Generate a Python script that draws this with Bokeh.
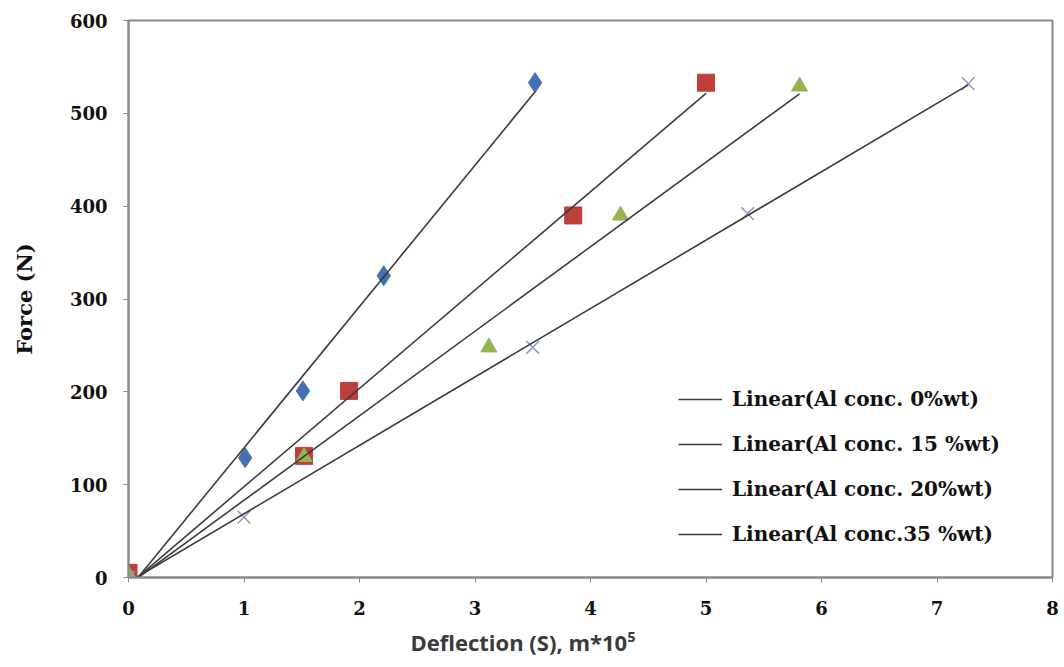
import numpy as np
from bokeh.plotting import figure
from bokeh.models import Legend, LegendItem, Title, FixedTicker, Range1d
from bokeh.embed import file_html
from bokeh.resources import INLINE

# Data (deflection in m*10^5, force in N)
x_0 = [0.0, 1.01, 1.51, 2.21, 3.52]
y_0 = [5, 129, 201, 325, 533]
x_15 = [0.0, 1.52, 1.91, 3.85, 5.0]
y_15 = [5, 131, 201, 390, 533]
x_20 = [0.0, 1.52, 3.12, 4.26, 5.81]
y_20 = [3, 130, 248, 390, 529]
x_35 = [0.0, 1.0, 3.5, 5.36, 7.27]
y_35 = [0, 65, 248, 392, 532]

legend_labels = ["Linear(Al conc. 0%wt)", "Linear(Al conc. 15 %wt)",
                 "Linear(Al conc. 20%wt)", "Linear(Al conc.35 %wt)"]
x_ticks = [0, 1, 2, 3, 4, 5, 6, 7, 8]
y_ticks = [0, 100, 200, 300, 400, 500, 600]

p = figure(width=1064, height=667, output_backend="svg", toolbar_location=None,
           x_range=Range1d(0, 8), y_range=Range1d(0, 600),
           min_border_left=128, min_border_right=12, min_border_top=20, min_border_bottom=90)
p.xgrid.visible = False
p.ygrid.visible = False
p.outline_line_color = "#8a8a8a"
p.outline_line_width = 2
p.background_fill_color = "white"
p.border_fill_color = "white"

serif = "DejaVu Serif"
for ax in (p.xaxis[0], p.yaxis[0]):
    ax.axis_line_color = "#8a8a8a"
    ax.axis_line_width = 2
    ax.major_tick_line_color = "#8a8a8a"
    ax.major_tick_out = 5
    ax.major_tick_in = 0
    ax.minor_tick_out = 0
    ax.minor_tick_in = 0
    ax.major_label_text_font = serif
    ax.major_label_text_font_style = "bold"
    ax.major_label_text_font_size = "18px"
    ax.major_label_text_color = "#111111"

p.xaxis.ticker = FixedTicker(ticks=x_ticks)
p.yaxis.ticker = FixedTicker(ticks=y_ticks)
p.xaxis.major_label_standoff = 18
p.yaxis.major_label_standoff = 16

p.yaxis.axis_label = "Force (N)"
p.yaxis.axis_label_text_font = serif
p.yaxis.axis_label_text_font_style = "bold"
p.yaxis.axis_label_text_font_size = "21px"
p.yaxis.axis_label_text_color = "#111111"
p.yaxis.axis_label_standoff = 30

# markers
p.scatter(x_0, y_0, marker="diamond", size=20, fill_color="#4273AE", line_color="#4273AE")
p.scatter(x_15, y_15, marker="square", size=17, fill_color="#BE3E3B", line_color="#BE3E3B")
p.scatter(x_20, y_20, marker="triangle", size=16, fill_color="#93B450", line_color="#93B450")
p.scatter(x_35, y_35, marker="x", size=18, line_color="#8E97C4", line_width=1.5)

# linear trendlines (least squares), drawn from 0 to max x
items = []
for xs, ys, lab in zip([x_0, x_15, x_20, x_35], [y_0, y_15, y_20, y_35], legend_labels):
    m, b = np.polyfit(xs, ys, 1)
    lx = [min(xs), max(xs)]
    ly = [m * v + b for v in lx]
    r = p.line(lx, ly, line_color="#3c3c3c", line_width=1.6)
    items.append(LegendItem(label=lab, renderers=[r]))

legend = Legend(items=items, location=(550, 31), padding=0, margin=0,
                spacing=21, glyph_width=44, glyph_height=20, label_height=20,
                label_standoff=10, border_line_alpha=0, background_fill_alpha=0,
                label_text_font=serif, label_text_font_style="bold",
                label_text_font_size="20px", label_text_color="#111111")
p.add_layout(legend, "center")

xtitle = Title(text="Deflection (S), m*10\u2075", align="left", offset=282,
               text_font="Open Sans", text_font_style="bold", text_font_size="22px",
               text_color="#3a3a3a", standoff=14)
p.add_layout(xtitle, "below")

open("out.html", "w").write(file_html(p, INLINE))
